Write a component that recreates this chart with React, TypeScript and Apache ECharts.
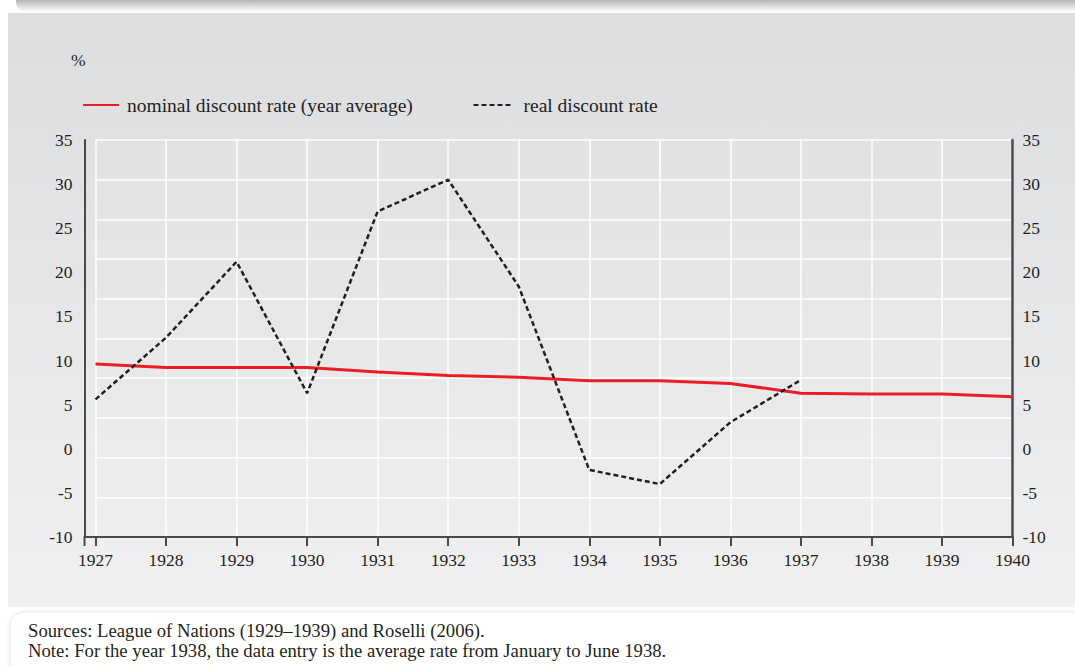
import React, { useEffect, useRef } from "react";
import * as echarts from "echarts";

const years = ["1927", "1928", "1929", "1930", "1931", "1932", "1933", "1934", "1935", "1936", "1937", "1938", "1939", "1940"];
const nominalRate = [9.6, 9.2, 9.2, 9.2, 8.7, 8.3, 8.1, 7.7, 7.7, 7.4, 6.3, 6.2, 6.2, 5.9];
const realRate = [5.6, 12.6, 21.2, 6.3, 26.9, 30.5, 18.4, -2.4, -4.0, 3.0, 7.8];
const yTicks = { min: -10, max: 35, interval: 5 };
const nominalName = "nominal discount rate (year average)";
const realName = "real discount rate";
const unitLabel = "%";
const sourceLines = [
  "Sources: League of Nations (1929\u20131939) and Roselli (2006).",
  "Note: For the year 1938, the data entry is the average rate from January to June 1938.",
];

const FONT = "Liberation Serif";
const TXT = "#231f20";
const AX = "#4a4a4a";

export default function App() {
  const ref = useRef<HTMLDivElement>(null);
  useEffect(() => {
    if (!ref.current) return;
    const chart = echarts.init(ref.current, null, { renderer: "svg" });
    const axisLabel = { color: TXT, fontSize: 17.5, fontFamily: FONT };
    const textStyle = (text: string, size: number) => ({
      text,
      fill: TXT,
      fontSize: size,
      fontFamily: FONT,
      verticalAlign: "middle",
    });
    chart.setOption({
      animation: false,
      textStyle: { fontFamily: FONT },
      graphic: [
        {
          type: "rect",
          z: -10,
          shape: { x: 16, y: -12, width: 1080, height: 24, r: 10 },
          style: {
            fill: new echarts.graphic.LinearGradient(0, 0, 0, 1, [
              { offset: 0, color: "#8e8e8e" },
              { offset: 0.5, color: "#b4b4b4" },
              { offset: 1, color: "#ffffff" },
            ]),
          },
        },
        {
          type: "rect",
          z: -9,
          shape: { x: 8, y: 13, width: 1080, height: 594 },
          style: {
            fill: new echarts.graphic.LinearGradient(0, 0, 0, 1, [
              { offset: 0, color: "#dcdddf" },
              { offset: 1, color: "#f0f0f2" },
            ]),
          },
        },
        {
          type: "rect",
          z: -9,
          shape: { x: 10, y: 612, width: 1090, height: 80, r: 14 },
          style: {
            fill: "#ffffff",
            stroke: "#ececec",
            lineWidth: 1,
            shadowBlur: 4,
            shadowColor: "rgba(0,0,0,0.08)",
          },
        },
        { type: "text", x: 71, y: 60, style: textStyle(unitLabel, 17.5) },
        {
          type: "polyline",
          z: 5,
          shape: { points: [[84.5, 546], [84.5, 537], [96, 537]] },
          style: { stroke: AX, lineWidth: 2, fill: null },
        },
        { type: "text", x: 28, y: 630, style: textStyle(sourceLines[0], 18.7) },
        { type: "text", x: 28, y: 650, style: textStyle(sourceLines[1], 18.7) },
      ],
      legend: [
        {
          data: [nominalName],
          left: 82,
          top: 95,
          padding: 0,
          itemWidth: 36,
          itemHeight: 14,
          itemStyle: { opacity: 0 },
          textStyle: { color: TXT, fontSize: 19.5, fontFamily: FONT, padding: [0, 0, 0, 3] },
        },
        {
          data: [realName],
          left: 472.5,
          top: 95,
          padding: 0,
          itemWidth: 37,
          itemHeight: 14,
          itemStyle: { opacity: 0 },
          textStyle: { color: TXT, fontSize: 19.5, fontFamily: FONT, padding: [0, 0, 0, 8] },
        },
      ],
      grid: { left: 95.5, right: 62.5, top: 140, bottom: 130 },
      xAxis: {
        type: "category",
        data: years,
        boundaryGap: false,
        axisLine: { show: true, onZero: false, lineStyle: { color: AX, width: 2 } },
        axisTick: { show: true, length: 9, lineStyle: { color: AX, width: 2 } },
        axisLabel: { ...axisLabel, margin: 14 },
        splitLine: { show: true, lineStyle: { color: "#ffffff", width: 1.5 } },
      },
      yAxis: [
        {
          type: "value",
          position: "left",
          offset: 11,
          min: yTicks.min,
          max: yTicks.max,
          interval: yTicks.interval,
          axisLine: { show: true, lineStyle: { color: AX, width: 2 } },
          axisTick: { show: false },
          axisLabel: { ...axisLabel, margin: 12 },
          splitLine: { show: false },
        },
        {
          type: "value",
          position: "right",
          min: yTicks.min,
          max: yTicks.max,
          interval: yTicks.interval,
          axisLine: { show: true, lineStyle: { color: AX, width: 2.5 } },
          axisTick: { show: false },
          axisLabel: { ...axisLabel, margin: 10 },
          splitLine: { show: false },
        },
        {
          type: "value",
          position: "left",
          min: 0,
          max: 10,
          interval: 1,
          axisLine: { show: false },
          axisTick: { show: false },
          axisLabel: { show: false },
          splitLine: { show: true, lineStyle: { color: "#ffffff", width: 1.5 } },
        },
      ],
      series: [
        {
          name: nominalName,
          type: "line",
          yAxisIndex: 0,
          data: nominalRate,
          symbol: "none",
          z: 3,
          lineStyle: { color: "#ed1c24", width: 3, type: "solid" },
          itemStyle: { color: "#ed1c24" },
        },
        {
          name: realName,
          type: "line",
          yAxisIndex: 0,
          data: realRate,
          symbol: "none",
          z: 4,
          lineStyle: { color: "#231f20", width: 2.5, type: [5, 3] },
          itemStyle: { color: "#231f20" },
        },
      ],
    });
    return () => chart.dispose();
  }, []);
  return (
    <div
      ref={ref}
      style={{ position: "fixed", left: 0, top: 0, width: 1075, height: 667, background: "#ffffff" }}
    />
  );
}
